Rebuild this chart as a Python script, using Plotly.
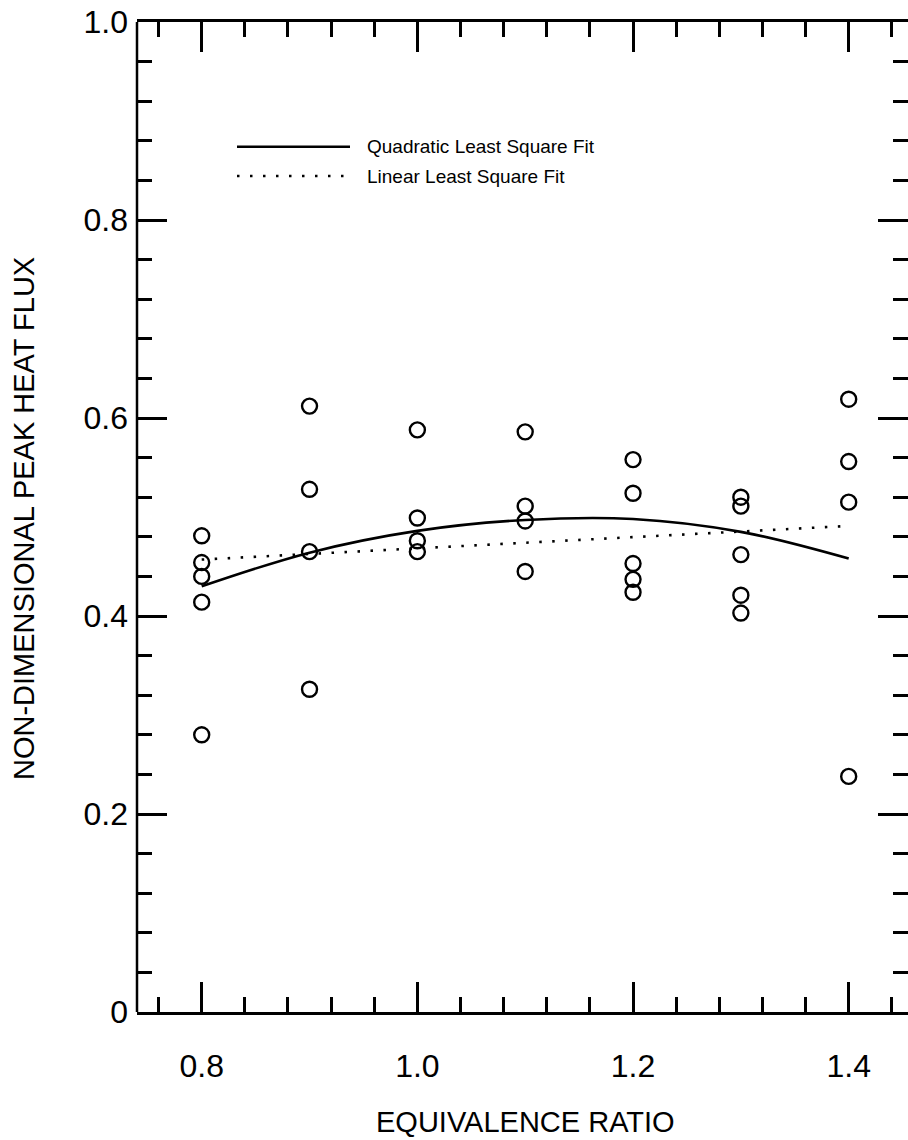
import plotly.graph_objects as go

# ---- data ----
phi = [0.8, 0.8, 0.8, 0.8, 0.8,
       0.9, 0.9, 0.9, 0.9,
       1.0, 1.0, 1.0, 1.0,
       1.1, 1.1, 1.1, 1.1,
       1.2, 1.2, 1.2, 1.2, 1.2,
       1.3, 1.3, 1.3, 1.3, 1.3,
       1.4, 1.4, 1.4, 1.4]
flux = [0.481, 0.454, 0.440, 0.414, 0.280,
        0.612, 0.528, 0.465, 0.326,
        0.588, 0.499, 0.476, 0.465,
        0.586, 0.511, 0.496, 0.445,
        0.558, 0.524, 0.453, 0.437, 0.424,
        0.520, 0.511, 0.462, 0.421, 0.403,
        0.619, 0.556, 0.515, 0.238]

quad_x = [0.8, 0.9, 1.0, 1.1, 1.2, 1.3, 1.4]
quad_y = [0.430, 0.464, 0.486, 0.497, 0.498, 0.485, 0.458]

lin_x = [0.8, 1.4]
lin_y = [0.457, 0.491]

x_ticks = [0.8, 1.0, 1.2, 1.4]
x_ticktext = ["0.8", "1.0", "1.2", "1.4"]
y_ticks = [0, 0.2, 0.4, 0.6, 0.8, 1.0]
y_ticktext = ["0", "0.2", "0.4", "0.6", "0.8", "1.0"]

legend_labels = ["Quadratic Least Square Fit", "Linear Least Square Fit"]
x_title = "EQUIVALENCE RATIO"
y_title = "NON-DIMENSIONAL PEAK HEAT FLUX"

FONT = "Liberation Sans, Arial, Helvetica, sans-serif"

fig = go.Figure()
fig.add_trace(go.Scatter(
    x=quad_x, y=quad_y, mode="lines", line=dict(color="black", width=2.6, shape="spline"),
    showlegend=False, hoverinfo="skip"))
fig.add_trace(go.Scatter(
    x=lin_x, y=lin_y, mode="lines", line=dict(color="black", width=2.6, dash="2.5px,10.5px"),
    showlegend=False, hoverinfo="skip"))
fig.add_trace(go.Scatter(
    x=phi, y=flux, mode="markers",
    marker=dict(symbol="circle-open", size=15, color="black", line=dict(width=2.4, color="black")),
    showlegend=False))

W, H = 908, 1140
L, R, T, B = 137, 0, 22, 128
pw = W - L - R
ph = H - T - B

def px_x(v):
    return (v - L) / pw

def px_y(v):
    return 1 - (v - T) / ph

fig.update_xaxes(
    range=[0.74, 1.455], tickmode="array", tickvals=x_ticks, ticktext=x_ticktext,
    ticklabelstandoff=24,
    showline=True, linecolor="black", linewidth=2.5, mirror="ticks",
    ticks="inside", ticklen=30, tickwidth=2.5, tickcolor="black",
    showgrid=False, zeroline=False,
    tickfont=dict(family=FONT, size=32, color="black"),
    minor=dict(dtick=0.04, tick0=0.8, ticks="inside", ticklen=15, tickwidth=2.5,
               tickcolor="black", showgrid=False))
fig.update_yaxes(
    range=[0, 1.0], tickmode="array", tickvals=y_ticks, ticktext=y_ticktext,
    ticklabelstandoff=8,
    showline=False, mirror="ticks",
    ticks="inside", ticklen=30, tickwidth=2.5, tickcolor="black",
    showgrid=False, zeroline=False,
    tickfont=dict(family=FONT, size=32, color="black"),
    minor=dict(dtick=0.04, tick0=0, ticks="inside", ticklen=15, tickwidth=2.5,
               tickcolor="black", showgrid=False))

# left frame line (right frame lies beyond the visible page in the reference)
fig.add_shape(type="line", xref="paper", yref="paper", x0=0, x1=0, y0=0, y1=1,
              line=dict(color="black", width=2.5), layer="above")

# legend drawn manually
ly1, ly2 = px_y(146.7), px_y(176)
fig.add_shape(type="line", xref="paper", yref="paper", x0=px_x(237), x1=px_x(350), y0=ly1, y1=ly1,
              line=dict(color="black", width=2.6))
fig.add_shape(type="line", xref="paper", yref="paper", x0=px_x(237), x1=px_x(350), y0=ly2, y1=ly2,
              line=dict(color="black", width=2.6, dash="2.5px,10.5px"))
for lab, yy in zip(legend_labels, [ly1, ly2]):
    fig.add_annotation(text=lab, xref="paper", yref="paper", x=px_x(365), y=yy,
                       xanchor="left", yanchor="middle", showarrow=False,
                       font=dict(family=FONT, size=19, color="black"))

fig.add_annotation(text=x_title, xref="paper", yref="paper", x=px_x(525), y=px_y(1122),
                   xanchor="center", yanchor="middle", showarrow=False,
                   font=dict(family=FONT, size=29, color="black"))
fig.add_annotation(text=y_title, xref="paper", yref="paper", x=px_x(24), y=px_y(519),
                   xanchor="center", yanchor="middle", showarrow=False, textangle=-90,
                   font=dict(family=FONT, size=29, color="black"))

fig.update_layout(
    width=W, height=H, margin=dict(l=L, r=R, t=T, b=B, pad=0),
    plot_bgcolor="white", paper_bgcolor="white",
    font=dict(family=FONT, color="black"),
)

fig.write_html("out.html")
